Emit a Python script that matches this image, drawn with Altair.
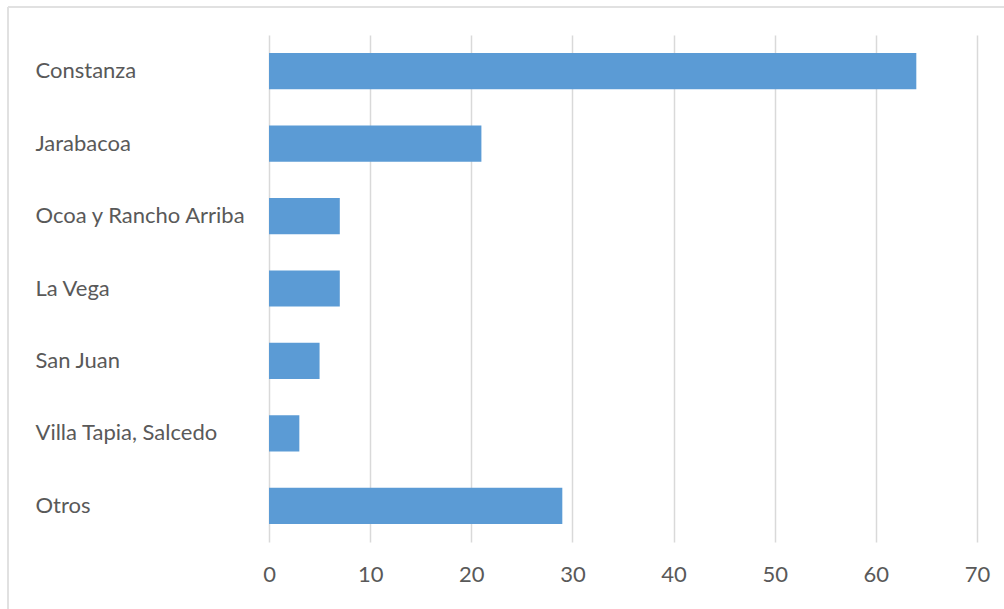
import altair as alt
import pandas as pd

categories = ["Constanza", "Jarabacoa", "Ocoa y Rancho Arriba", "La Vega", "San Juan", "Villa Tapia, Salcedo", "Otros"]
values = [64, 21, 7, 7, 5, 3, 29]

df = pd.DataFrame({"lugar": categories, "valor": values})

FONT = "Lato"
W, H = 708, 507

bars = alt.Chart(df).mark_bar(color="#5B9BD5").encode(
    x=alt.X("valor:Q", scale=alt.Scale(domain=[0, 70], nice=False),
            axis=alt.Axis(values=list(range(0, 71, 10)), title=None, domain=False, ticks=False,
                          labelPadding=22, labelFontSize=22, labelColor="#595959", labelFont=FONT,
                          labelFlush=False,
                          grid=True, gridColor="#D9D9D9", gridWidth=1.5)),
    y=alt.Y("lugar:N", sort=categories,
            scale=alt.Scale(paddingInner=0.5, paddingOuter=0.25),
            axis=alt.Axis(title=None, domain=False, ticks=False, labelAlign="left",
                          labelPadding=234, labelFontSize=22, labelColor="#595959", labelFont=FONT,
                          labelLimit=300)),
)

border_top = alt.Chart(df).mark_rule(color="#E0E0E0", strokeWidth=1.5).encode(
    x=alt.value(-261), x2=alt.value(800), y=alt.value(-28)
)
border_left = alt.Chart(df).mark_rule(color="#E0E0E0", strokeWidth=1.5).encode(
    x=alt.value(-261), y=alt.value(-28), y2=alt.value(600)
)

chart = alt.layer(bars, border_top, border_left).properties(
    width=W, height=H,
    autosize=alt.AutoSizeParams(type="none"),
    padding={"left": 269, "top": 35, "right": 27, "bottom": 67},
    background="white",
).configure_view(stroke=None)

chart.save("out.html", embed_options={"renderer": "svg", "actions": False})
